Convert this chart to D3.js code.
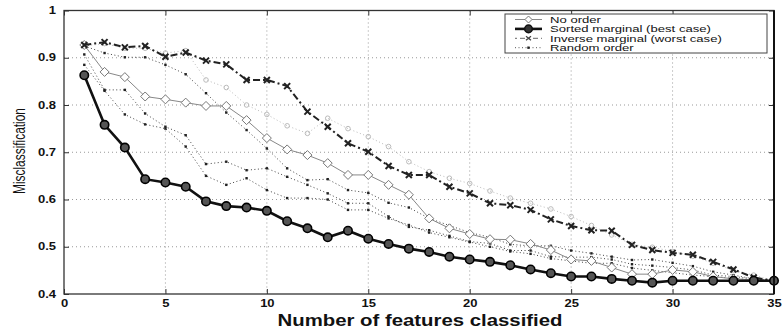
<!DOCTYPE html>
<html>
<head>
<meta charset="utf-8">
<script src="https://cdn.jsdelivr.net/npm/d3@7"></script>
<style>
  body { margin: 0; background: #fff; }
  text { font-family: "Liberation Sans", Arial, sans-serif; fill: #111; }
</style>
</head>
<body>
<svg id="chart" width="784" height="329"></svg>
<script>
// number of features classified
var features = [1,2,3,4,5,6,7,8,9,10,11,12,13,14,15,16,17,18,19,20,21,22,23,24,25,26,27,28,29,30,31,32,33,34,35];

var noOrder = [0.927,0.870,0.859,0.818,0.812,0.805,0.798,0.798,0.768,0.730,0.706,0.694,0.677,0.652,0.652,0.631,0.610,0.560,0.539,0.527,0.516,0.515,0.506,0.493,0.473,0.470,0.456,0.442,0.442,0.451,0.447,0.437,0.432,0.430,0.428];
var sortedMarginal = [0.863,0.758,0.710,0.643,0.636,0.627,0.596,0.586,0.583,0.576,0.554,0.539,0.520,0.534,0.517,0.506,0.496,0.489,0.479,0.473,0.468,0.461,0.452,0.444,0.437,0.437,0.432,0.428,0.424,0.428,0.428,0.428,0.428,0.428,0.428];
var inverseMarginal = [0.927,0.933,0.922,0.925,0.902,0.911,0.894,0.886,0.853,0.853,0.840,0.786,0.754,0.719,0.701,0.671,0.652,0.652,0.627,0.613,0.592,0.588,0.578,0.558,0.544,0.535,0.534,0.504,0.493,0.487,0.483,0.468,0.452,0.435,0.428];
// several random orderings (dotted)
var randomA = [0.925,0.910,0.901,0.901,0.885,0.865,0.825,0.784,0.747,0.708,0.666,0.641,0.643,0.620,0.614,0.593,0.583,0.560,0.545,0.530,0.520,0.505,0.502,0.502,0.492,0.486,0.479,0.472,0.473,0.466,0.459,0.447,0.440,0.432,0.428];
var randomB = [0.907,0.832,0.832,0.782,0.754,0.736,0.675,0.680,0.662,0.666,0.648,0.631,0.613,0.592,0.592,0.564,0.542,0.535,0.523,0.511,0.507,0.492,0.492,0.479,0.478,0.478,0.473,0.463,0.460,0.456,0.451,0.440,0.437,0.432,0.428];
var randomC = [0.885,0.830,0.780,0.759,0.750,0.712,0.650,0.631,0.645,0.620,0.603,0.603,0.600,0.578,0.578,0.560,0.546,0.530,0.520,0.510,0.500,0.490,0.485,0.475,0.470,0.465,0.465,0.455,0.450,0.445,0.440,0.437,0.433,0.430,0.428];
var randomD = [0.925,0.930,0.920,0.920,0.910,0.915,0.853,0.837,0.800,0.780,0.756,0.740,0.772,0.750,0.733,0.712,0.680,0.659,0.645,0.634,0.618,0.603,0.592,0.580,0.564,0.545,0.525,0.505,0.499,0.490,0.480,0.465,0.450,0.440,0.428];

var xTicks = [0,5,10,15,20,25,30,35];
var yTicks = [0.4,0.5,0.6,0.7,0.8,0.9,1];
var legendLabels = ["No order", "Sorted marginal (best case)", "Inverse marginal (worst case)", "Random order"];

var svg = d3.select("#chart");
var plotL = 64, plotR = 774, plotT = 10.5, plotB = 294;

var x = d3.scaleLinear().domain([0, 35]).range([plotL, plotR]);
var y = d3.scaleLinear().domain([0.4, 1]).range([plotB, plotT]);

// stretch text horizontally like the scanned figure
function stretch(sel, k) {
  sel.each(function() {
    var w = this.getComputedTextLength();
    d3.select(this).attr("textLength", w * k).attr("lengthAdjust", "spacingAndGlyphs");
  });
}

// grid
var grid = svg.append("g").attr("stroke", "#999").attr("stroke-width", 1).attr("stroke-dasharray", "1,3");
grid.selectAll(".gx").data(xTicks.slice(1, -1)).enter().append("line")
  .attr("x1", function(d) { return x(d); }).attr("x2", function(d) { return x(d); })
  .attr("y1", plotT).attr("y2", plotB);
grid.selectAll(".gy").data(yTicks.slice(1, -1)).enter().append("line")
  .attr("y1", function(d) { return y(d); }).attr("y2", function(d) { return y(d); })
  .attr("x1", plotL).attr("x2", plotR);

// axes (ticks inward, mirrored)
var xAxis = svg.append("g").attr("transform", "translate(0," + plotB + ")")
  .call(d3.axisBottom(x).tickValues(xTicks).tickSize(-5).tickPadding(6).tickFormat(d3.format("d")));
var xTop = svg.append("g").attr("transform", "translate(0," + plotT + ")")
  .call(d3.axisTop(x).tickValues(xTicks).tickSize(-5).tickFormat(""));
var yAxis = svg.append("g").attr("transform", "translate(" + plotL + ",0)")
  .call(d3.axisLeft(y).tickValues(yTicks).tickSize(-5).tickPadding(8)
    .tickFormat(function(d) { return d === 1 ? "1" : d3.format(".1f")(d); }));
var yRight = svg.append("g").attr("transform", "translate(" + plotR + ",0)")
  .call(d3.axisRight(y).tickValues(yTicks).tickSize(-5).tickFormat(""));

[xAxis, xTop, yAxis, yRight].forEach(function(g) {
  g.select(".domain").remove();
  g.selectAll(".tick line").attr("stroke", "#333");
});
svg.selectAll(".tick text").attr("font-size", 10).attr("font-weight", "bold")
  .attr("font-family", "'Liberation Sans', Arial, sans-serif").attr("fill", "#111");
stretch(xAxis.selectAll(".tick text"), 1.3);
stretch(yAxis.selectAll(".tick text"), 1.3);

var line = d3.line()
  .x(function(d, i) { return x(features[i]); })
  .y(function(d) { return y(d); });

var plot = svg.append("g");

// random orderings
[randomA, randomB, randomC].forEach(function(s) {
  plot.append("path").datum(s).attr("d", line)
    .attr("fill", "none").attr("stroke", "#444").attr("stroke-width", 1).attr("stroke-dasharray", "1,2.5");
  plot.selectAll(null).data(s).enter().append("rect")
    .attr("x", function(d, i) { return x(features[i]) - 1.2; })
    .attr("y", function(d) { return y(d) - 1.2; })
    .attr("width", 2.4).attr("height", 2.4).attr("fill", "#222");
});
plot.append("path").datum(randomD).attr("d", line)
  .attr("fill", "none").attr("stroke", "#bbb").attr("stroke-width", 1).attr("stroke-dasharray", "1,2.5");
plot.selectAll(null).data(randomD).enter().append("circle")
  .attr("cx", function(d, i) { return x(features[i]); })
  .attr("cy", function(d) { return y(d); })
  .attr("r", 2.3).attr("fill", "none").attr("stroke", "#bbb").attr("stroke-width", 1);

// no order
var diamond = "M0,-4.5L4.5,0L0,4.5L-4.5,0Z";
plot.append("path").datum(noOrder).attr("d", line)
  .attr("fill", "none").attr("stroke", "#888").attr("stroke-width", 1);
plot.selectAll(null).data(noOrder).enter().append("path")
  .attr("d", diamond)
  .attr("transform", function(d, i) { return "translate(" + x(features[i]) + "," + y(d) + ")"; })
  .attr("fill", "#fff").attr("stroke", "#777").attr("stroke-width", 1);

// inverse marginal
var cross = "M-3,-3L3,3M-3,3L3,-3";
plot.append("path").datum(inverseMarginal).attr("d", line)
  .attr("fill", "none").attr("stroke", "#222").attr("stroke-width", 2).attr("stroke-dasharray", "7,3,2,3");
plot.selectAll(null).data(inverseMarginal).enter().append("path")
  .attr("d", cross)
  .attr("transform", function(d, i) { return "translate(" + x(features[i]) + "," + y(d) + ")"; })
  .attr("fill", "none").attr("stroke", "#222").attr("stroke-width", 2);

// sorted marginal
plot.append("path").datum(sortedMarginal).attr("d", line)
  .attr("fill", "none").attr("stroke", "#111").attr("stroke-width", 2.6);
plot.selectAll(null).data(sortedMarginal).enter().append("circle")
  .attr("cx", function(d, i) { return x(features[i]); })
  .attr("cy", function(d) { return y(d); })
  .attr("r", 4.2).attr("fill", "#555").attr("stroke", "#000").attr("stroke-width", 1.6);

// frame
svg.append("rect").attr("x", plotL).attr("y", plotT).attr("width", plotR - plotL).attr("height", plotB - plotT)
  .attr("fill", "none").attr("stroke", "#333").attr("stroke-width", 1.3);
svg.append("line").attr("x1", plotR).attr("x2", plotR).attr("y1", plotT).attr("y2", plotB)
  .attr("stroke", "#111").attr("stroke-width", 2);

// axis labels
svg.append("text").attr("x", 420).attr("y", 326)
  .attr("text-anchor", "middle").attr("font-size", 16).attr("font-weight", "bold")
  .attr("textLength", 285).attr("lengthAdjust", "spacingAndGlyphs")
  .text("Number of features classified");
svg.append("text").attr("transform", "translate(25,151) rotate(-90)")
  .attr("text-anchor", "middle").attr("font-size", 16)
  .attr("textLength", 86).attr("lengthAdjust", "spacingAndGlyphs")
  .text("Misclassification");

// legend
var lg = svg.append("g").attr("transform", "translate(505,14)");
lg.append("rect").attr("width", 262).attr("height", 39)
  .attr("fill", "#fff").attr("stroke", "#444").attr("stroke-width", 1);
var rowY = function(i) { return 5.5 + i * 9.4; };
var rows = lg.selectAll(".row").data(legendLabels).enter().append("g")
  .attr("transform", function(d, i) { return "translate(0," + rowY(i) + ")"; });
rows.append("text").attr("x", 45).attr("y", 3.2).attr("font-size", 8.2).text(function(d) { return d; });
stretch(rows.selectAll("text"), 1.6);

var r0 = d3.select(rows.nodes()[0]);
r0.append("line").attr("x1", 10).attr("x2", 37).attr("stroke", "#888");
r0.append("path").attr("d", "M0,-3.5L3.5,0L0,3.5L-3.5,0Z").attr("transform", "translate(23.5,0)")
  .attr("fill", "#fff").attr("stroke", "#777");
var r1 = d3.select(rows.nodes()[1]);
r1.append("line").attr("x1", 10).attr("x2", 37).attr("stroke", "#111").attr("stroke-width", 2.6);
r1.append("circle").attr("cx", 23.5).attr("r", 3.8).attr("fill", "#333").attr("stroke", "#111").attr("stroke-width", 1.5);
var r2 = d3.select(rows.nodes()[2]);
r2.append("line").attr("x1", 10).attr("x2", 37).attr("stroke", "#666").attr("stroke-dasharray", "2,3,5,3");
r2.append("path").attr("d", "M-2.5,-2L2.5,2M-2.5,2L2.5,-2").attr("transform", "translate(23.5,0)")
  .attr("stroke", "#444").attr("stroke-width", 1.3);
var r3 = d3.select(rows.nodes()[3]);
r3.append("line").attr("x1", 10).attr("x2", 37).attr("stroke", "#555").attr("stroke-dasharray", "1,2.5");
r3.append("rect").attr("x", 22.3).attr("y", -1.2).attr("width", 2.4).attr("height", 2.4).attr("fill", "#222");
</script>
</body>
</html>
